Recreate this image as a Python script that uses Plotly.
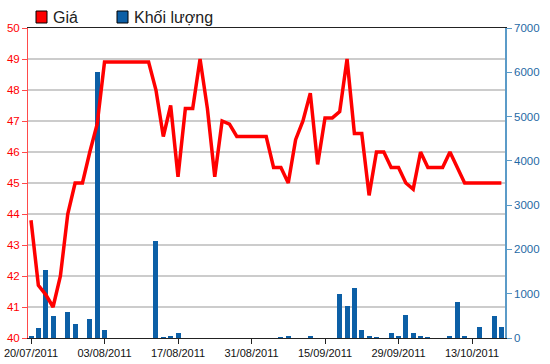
import plotly.graph_objects as go

# ---- data ----
tick_labels = ["20/07/2011", "03/08/2011", "17/08/2011", "31/08/2011",
               "15/09/2011", "29/09/2011", "13/10/2011"]
tick_positions = [0, 10, 20, 30, 40, 50, 60]

price = [43.8, 41.7, 41.4, 41.0, 42.0, 44.0, 45.0, 45.0, 46.0, 46.9,
         48.9, 48.9, 48.9, 48.9, 48.9, 48.9, 48.9, 48.0, 46.5, 47.5,
         45.2, 47.4, 47.4, 49.0, 47.4, 45.2, 47.0, 46.9, 46.5, 46.5,
         46.5, 46.5, 46.5, 45.5, 45.5, 45.0, 46.4, 47.0, 47.9, 45.6,
         47.1, 47.1, 47.3, 49.0, 46.6, 46.6, 44.6, 46.0, 46.0, 45.5,
         45.5, 45.0, 44.8, 46.0, 45.5, 45.5, 45.5, 46.0, 45.5, 45.0,
         45.0, 45.0, 45.0, 45.0, 45.0]

volume = [30, 220, 1530, 500, 0, 590, 320, 0, 440, 6000,
          180, 0, 0, 0, 0, 0, 0, 2200, 20, 40,
          110, 0, 0, 0, 0, 0, 0, 0, 0, 0,
          0, 0, 0, 0, 20, 50, 0, 0, 50, 0,
          0, 0, 1000, 720, 1140, 170, 45, 20, 0, 106,
          45, 530, 110, 45, 15, 0, 0, 45, 810, 45,
          0, 250, 0, 500, 250]

series_names = ["Giá", "Khối lượng"]
series_colors = ["#ff0000", "#0c5fa6"]

day_index = list(range(len(price)))

FONT = "Liberation Sans, Arial, sans-serif"

fig = go.Figure()
fig.add_trace(go.Bar(
    x=day_index, y=volume, yaxis="y", name=series_names[1],
    marker=dict(color=series_colors[1], line=dict(width=0)),
    width=0.68, showlegend=False,
))
fig.add_trace(go.Scatter(
    x=day_index, y=price, yaxis="y2", name=series_names[0], mode="lines",
    line=dict(color=series_colors[0], width=3.5), showlegend=False,
))

# plot area in pixels: left 28, right 505, top 28, bottom 338
L, R, T, B = 28, 505, 28, 338
W, H = R - L, B - T


def px(x):
    return (x - L) / W


def py(y):
    return (B - y) / H


shapes = []
annotations = []
legend_x = [36, 117]
text_x = [51, 132]
for i in range(2):
    shapes.append(dict(type="rect", xref="paper", yref="paper",
                       x0=px(legend_x[i]), x1=px(legend_x[i] + 11),
                       y0=py(23), y1=py(11),
                       fillcolor=series_colors[i],
                       line=dict(color="black", width=1)))
    annotations.append(dict(xref="paper", yref="paper", x=px(text_x[i]), y=py(17),
                            xanchor="left", yanchor="middle", showarrow=False,
                            text=series_names[i],
                            font=dict(family=FONT, size=16, color="#222222")))

fig.update_layout(
    width=550, height=364,
    margin=dict(l=L, r=550 - R, t=T, b=364 - B, pad=0, autoexpand=False),
    plot_bgcolor="white", paper_bgcolor="white",
    font=dict(family=FONT),
    bargap=0,
    xaxis=dict(range=[-0.41, 64.49], tickmode="array", tickvals=tick_positions,
               ticktext=tick_labels, showgrid=False, zeroline=False,
               showline=True, linecolor="#222222", linewidth=1, mirror=True,
               ticks="outside", ticklen=5, tickcolor="#222222", automargin=False,
               tickfont=dict(family=FONT, size=11, color="#111111")),
    yaxis=dict(side="right", range=[0, 7000], dtick=1000, showgrid=False,
               zeroline=False, showline=True, linecolor="#5b9bc8", linewidth=1.5,
               ticks="outside", ticklen=5, tickcolor="#5b9bc8", automargin=False,
               tickfont=dict(family=FONT, size=11.5, color="#1f6aa5")),
    yaxis2=dict(overlaying="y", side="left", range=[40, 50], dtick=1,
                showgrid=True, gridcolor="#cccccc", gridwidth=1.5,
                zeroline=False, showline=True, linecolor="#ff4a4a", linewidth=1,
                ticks="outside", ticklen=5, tickcolor="#ff4a4a", automargin=False,
                tickfont=dict(family=FONT, size=11.5, color="#ff0000")),
    shapes=shapes,
    annotations=annotations,
)

fig.write_html("out.html", config={"displayModeBar": False},
               post_script="document.body.style.margin='0';document.body.style.overflow='hidden';")
